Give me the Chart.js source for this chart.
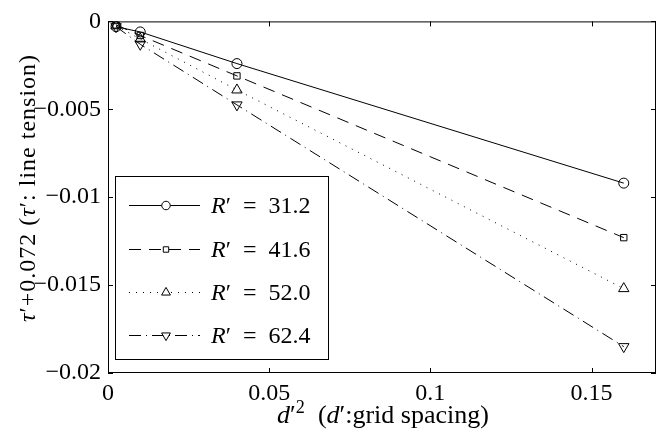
<!DOCTYPE html>
<html>
<head>
<meta charset="utf-8">
<script src="https://cdn.jsdelivr.net/npm/chart.js@4.4.0/dist/chart.umd.min.js"></script>
<style>
body { margin: 0; background: #fff; }
#wrap { width: 667px; height: 437px; }
</style>
</head>
<body>
<div id="wrap"><canvas id="canvas" width="667" height="437"></canvas></div>
<script>
// d'^2 values
var xVals = [0.0025, 0.01, 0.04, 0.16];
var r312 = [-0.0003, -0.0006, -0.0024, -0.0092];
var r416 = [-0.0002, -0.0008, -0.0031, -0.0123];
var r520 = [-0.00025, -0.001, -0.0039, -0.0152];
var r624 = [-0.0003, -0.0013, -0.00475, -0.0185];
var seriesNames = ['31.2', '41.6', '52.0', '62.4'];
var xTicks = [0, 0.05, 0.1, 0.15];
var yTicks = [0, -0.005, -0.01, -0.015, -0.02];

var FONT = '"Liberation Serif", "DejaVu Serif", serif';
var styles = [
	{ dash: [], point: 'circle', r: 5 },
	{ dash: [12, 8], point: 'rect', r: 4.5 },
	{ dash: [1, 6], point: 'triangle', r: 6 },
	{ dash: [12, 5, 1, 5], point: 'triangle', r: 6, rot: 180 }
];

function pts(ys){
	var a = [];
	for(var i = 0; i < xVals.length; i++) a.push({x: xVals[i], y: ys[i]});
	return a;
}

var allSeries = [r312, r416, r520, r624];
var datasets = [];
for(var i = 0; i < allSeries.length; i++){
	var s = styles[i];
	datasets.push({
		label: "R' = " + seriesNames[i],
		data: pts(allSeries[i]),
		showLine: true,
		borderColor: '#000',
		borderWidth: 1,
		borderDash: s.dash,
		pointStyle: s.point,
		pointRadius: s.r,
		pointRotation: s.rot || 0,
		pointBackgroundColor: 'rgba(0,0,0,0)',
		pointBorderColor: '#000',
		pointBorderWidth: 1
	});
}

function fmt(v){
	if(Math.abs(v) < 1e-12) return '0';
	var t = String(+Math.abs(v).toFixed(4));
	return (v < 0 ? '\u2212' : '') + t;
}

// draw text made of parts [text, italic, sup]
function richWidth(ctx, parts, size){
	var w = 0;
	for(var i = 0; i < parts.length; i++){
		var p = parts[i];
		var fs = p[2] ? size * 0.7 : size;
		ctx.font = (p[1] ? 'italic ' : '') + fs + 'px ' + FONT;
		w += ctx.measureText(p[0]).width;
	}
	return w;
}
function drawRich(ctx, parts, x, y, size, center){
	if(center) x = x - richWidth(ctx, parts, size) / 2;
	ctx.textAlign = 'left';
	ctx.textBaseline = 'alphabetic';
	for(var i = 0; i < parts.length; i++){
		var p = parts[i];
		var fs = p[2] ? size * 0.7 : size;
		ctx.font = (p[1] ? 'italic ' : '') + fs + 'px ' + FONT;
		ctx.fillText(p[0], x, p[2] ? y - size * 0.4 : y);
		x += ctx.measureText(p[0]).width;
	}
}

var framePlugin = {
	id: 'frame',
	afterDraw: function(chart){
		var ctx = chart.ctx;
		var a = chart.chartArea;
		var xs = chart.scales.x, ys = chart.scales.y;
		ctx.save();
		ctx.strokeStyle = '#000';
		ctx.lineWidth = 1;
		ctx.strokeRect(a.left + 0.5, a.top + 0.5, a.right - a.left - 1, a.bottom - a.top - 1);
		ctx.beginPath();
		var L = 5;
		for(var i = 0; i < xTicks.length; i++){
			var px = Math.round(xs.getPixelForValue(xTicks[i])) + 0.5;
			ctx.moveTo(px, a.bottom); ctx.lineTo(px, a.bottom - L);
			ctx.moveTo(px, a.top); ctx.lineTo(px, a.top + L);
		}
		for(var j = 0; j < yTicks.length; j++){
			var py = Math.round(ys.getPixelForValue(yTicks[j])) + 0.5;
			ctx.moveTo(a.left, py); ctx.lineTo(a.left + L, py);
			ctx.moveTo(a.right, py); ctx.lineTo(a.right - L, py);
		}
		ctx.stroke();

		// legend box
		var bx = 115, by = 176, bw = 213, bh = 183;
		ctx.fillStyle = '#fff';
		ctx.fillRect(bx, by, bw, bh);
		ctx.strokeRect(bx + 0.5, by + 0.5, bw, bh);
		var rows = [205, 249, 292, 335];
		for(var k = 0; k < datasets.length; k++){
			var d = datasets[k];
			var yy = rows[k] + 0.5;
			ctx.setLineDash(d.borderDash);
			ctx.beginPath();
			ctx.moveTo(129, yy); ctx.lineTo(200, yy);
			ctx.stroke();
			ctx.setLineDash([]);
			ctx.fillStyle = '#fff';
			Chart.helpers.drawPoint(ctx, {
				pointStyle: d.pointStyle, radius: d.pointRadius * 0.85,
				rotation: d.pointRotation, borderWidth: 1
			}, 166, yy);
			ctx.fillStyle = '#000';
			drawRich(ctx, [['R', true], ['\u2032  =  ' + seriesNames[k], false]], 211, rows[k] + 8, 24);
		}

		// axis titles
		ctx.fillStyle = '#000';
		drawRich(ctx, [['d', true], ['\u2032', false], ['2', false, true], ['  (', false], ['d', true], ['\u2032:grid spacing)', false]], 383, 423, 26, true);
		ctx.translate(35, 188);
		ctx.rotate(-Math.PI / 2);
		ctx.letterSpacing = '1px';
		drawRich(ctx, [['\u03c4', true], ['\u2032+0.072 (', false], ['\u03c4', true], ['\u2032: line tension)', false]], 0, 0, 24, true);
		ctx.restore();
	}
};

var ctx = document.getElementById('canvas').getContext('2d');
var chart = new Chart(ctx, {
	type: 'scatter',
	data: { datasets: datasets },
	options: {
		responsive: false,
		animation: false,
		layout: { padding: { top: 18, right: 11, left: 0, bottom: 0 } },
		plugins: { legend: { display: false }, tooltip: { enabled: false } },
		scales: {
			x: {
				type: 'linear', min: 0, max: 0.17,
				afterBuildTicks: function(sc){ sc.ticks = xTicks.map(function(v){ return {value: v}; }); },
				afterFit: function(sc){ sc.height = 64; },
				grid: { display: false, drawTicks: false },
				border: { display: false },
				ticks: { color: '#000', padding: 6, font: { family: FONT, size: 24 }, callback: function(v){ return fmt(v); } }
			},
			y: {
				type: 'linear', min: -0.02, max: 0,
				afterBuildTicks: function(sc){ sc.ticks = yTicks.map(function(v){ return {value: v}; }); },
				afterFit: function(sc){ sc.width = 108; },
				grid: { display: false, drawTicks: false },
				border: { display: false },
				ticks: { color: '#000', padding: 7, font: { family: FONT, size: 24 }, callback: function(v){ return fmt(v); } }
			}
		}
	},
	plugins: [framePlugin]
});
</script>
</body>
</html>
